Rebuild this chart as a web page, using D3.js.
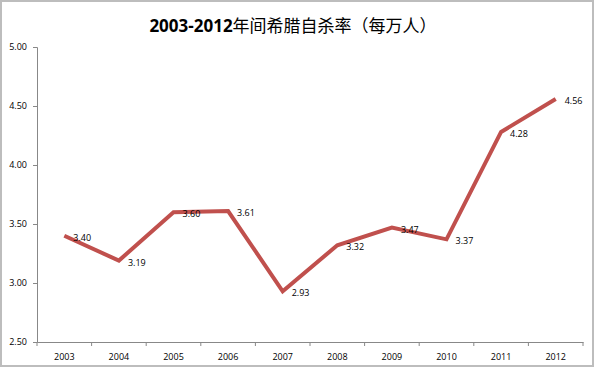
<!DOCTYPE html>
<html><head><meta charset="utf-8">
<script src="https://cdn.jsdelivr.net/npm/d3@7"></script>
<style>body{margin:0;background:#fff}svg{display:block}</style>
</head><body>
<script>
const years = ["2003","2004","2005","2006","2007","2008","2009","2010","2011","2012"];
const rates = [3.40,3.19,3.60,3.61,2.93,3.32,3.47,3.37,4.28,4.56];
const yTicks = [2.5,3.0,3.5,4.0,4.5,5.0];
const titleNum = "2003-2012";
const titleText = "年间希腊自杀率（每万人）";

const W=595,H=369;
const svg=d3.select("body").append("svg").attr("width",W).attr("height",H);
svg.append("rect").attr("x",1).attr("y",1).attr("width",W-3).attr("height",H-4)
  .attr("fill","#fff").attr("stroke","#bdbdbd").attr("stroke-width",2);

const x=d3.scaleBand().domain(years).range([37,583]);
const y=d3.scaleLinear().domain([2.5,5.0]).range([342,47]);
const font="'Open Sans','Noto Sans',sans-serif";

const t=svg.append("text").attr("x",293).attr("y",32).attr("text-anchor","middle")
  .attr("font-family","'Noto Sans CJK SC',sans-serif").attr("font-size",17).attr("fill","#000");
t.append("tspan").attr("font-weight","bold").attr("font-family","'Open Sans',sans-serif").text(titleNum);
t.append("tspan").attr("font-weight","normal").text(titleText);

const ya=svg.append("g").attr("transform","translate(37,0)")
  .call(d3.axisLeft(y).tickValues(yTicks).tickFormat(d3.format(".2f")).tickSize(4).tickPadding(6));
const xa=svg.append("g").attr("transform","translate(0,342)")
  .call(d3.axisBottom(x).tickSize(0).tickPadding(12));
xa.selectAll(".bt").data(d3.range(years.length+1)).enter().append("line")
  .attr("x1",i=>37+i*x.step()).attr("x2",i=>37+i*x.step()).attr("y1",0).attr("y2",4)
  .attr("stroke","#888");
[ya,xa].forEach(a=>{
  a.select(".domain").attr("stroke","#888");
  a.selectAll(".tick line").attr("stroke","#888");
  a.selectAll("text").attr("font-family",font).attr("font-size",9).attr("fill","#000");
});

const cx=d=>x(d)+x.bandwidth()/2;
const line=d3.line().x((d,i)=>cx(years[i])).y(d=>y(d));
svg.append("path").datum(rates).attr("d",line).attr("fill","none")
  .attr("stroke","#c0504d").attr("stroke-width",4).attr("stroke-linejoin","miter");

svg.selectAll(".lbl").data(rates).enter().append("text")
  .attr("x",(d,i)=>cx(years[i])+9).attr("y",d=>y(d)+5)
  .attr("font-family",font).attr("font-size",9).attr("fill","#000")
  .text(d=>d.toFixed(2));
</script>
</body></html>
